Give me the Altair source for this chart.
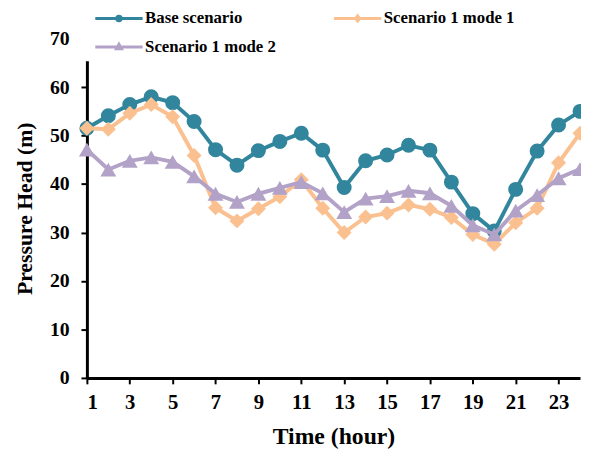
import altair as alt
import pandas as pd

hours = list(range(1, 25))
base = [51.5, 54.1, 56.4, 58.0, 56.8, 52.9, 47.1, 43.9, 46.9, 48.8, 50.5, 47.0,
        39.3, 44.8, 46.0, 48.0, 47.0, 40.4, 33.9, 30.3, 38.9, 46.8, 52.2, 55.0]
mode1 = [51.5, 51.3, 54.6, 56.4, 53.9, 45.9, 35.1, 32.4, 34.9, 37.4, 40.9, 35.0,
         30.0, 33.2, 34.0, 35.7, 34.8, 33.1, 29.6, 27.6, 32.0, 35.0, 44.4, 50.5]
mode2 = [47.1, 43.0, 44.8, 45.5, 44.6, 41.6, 38.0, 36.3, 38.0, 39.2, 40.4, 38.1,
         34.2, 37.0, 37.5, 38.6, 38.1, 35.5, 31.5, 29.6, 34.5, 37.7, 41.2, 43.1]

series_names = ["Base scenario", "Scenario 1 mode 1", "Scenario 1 mode 2"]
series_keys = ["base", "s1m1", "s1m2"]
colors = ["#31859C", "#FAC090", "#B3A2C7"]
point_shapes = ["circle", "diamond", "triangle-up"]
point_sizes = [230, 230, 260]
legend_shapes = [
    "M0,0H9.6M5.25,0A0.45,0.45,0,1,1,4.35,0A0.45,0.45,0,1,1,5.25,0Z",
    "M0,0H9.6M4.8,-0.5L5.2,0L4.8,0.5L4.4,0Z",
    "M0,0H9.6M4.8,-0.55L5.3,0.35L4.3,0.35Z",
]

rows = []
for name, key, vals in zip(series_names, series_keys, [base, mode1, mode2]):
    for h, v in zip(hours, vals):
        rows.append({"hour": h, "value": v, "series": name, "key": key})
df = pd.DataFrame(rows)

FONT = "Liberation Serif"

x = alt.X(
    "hour:Q",
    scale=alt.Scale(domain=[1, 24], nice=False, zero=False),
    axis=alt.Axis(
        values=list(range(1, 24, 2)), title="Time (hour)", grid=False,
        tickSize=6, tickWidth=2, tickColor="black", domainWidth=3, domainColor="black",
        labelFont=FONT, labelFontWeight="bold", labelFontSize=21, labelColor="black",
        labelPadding=8, titleFont=FONT, titleFontWeight="bold", titleFontSize=24,
        titleColor="black", titlePadding=12,
    ),
)
y = alt.Y(
    "value:Q",
    scale=alt.Scale(domain=[0, 70], nice=False),
    axis=alt.Axis(
        values=list(range(0, 71, 10)), title="Pressure Head (m)", grid=False,
        tickSize=6, tickWidth=2, tickColor="black", domainWidth=3, domainColor="black",
        labelFont=FONT, labelFontWeight="bold", labelFontSize=20, labelColor="black",
        labelPadding=12, titleFont=FONT, titleFontWeight="bold", titleFontSize=22,
        titleColor="black", titlePadding=13,
    ),
)
color_scale = alt.Scale(domain=series_keys, range=colors)

layers = []
for key, shp, sz in zip(series_keys, point_shapes, point_sizes):
    src = alt.Chart(df).transform_filter(alt.datum.key == key)
    line = src.mark_line(strokeWidth=4).encode(
        x=x, y=y, color=alt.Color("key:N", scale=color_scale, legend=None)
    )
    pts = src.mark_point(filled=True, size=sz, opacity=1, shape=shp).encode(
        x=x, y=y,
        color=alt.Color("key:N", scale=color_scale, legend=None),
    )
    layers += [line, pts]

leg = alt.Legend(
    orient="none", legendX=-6, legendY=-35, columns=2, direction="horizontal", title=None,
    labelFont=FONT, labelFontWeight="bold", labelFontSize=17, labelColor="black",
    labelOffset=42, labelLimit=400, symbolSize=100, symbolStrokeWidth=3,
    fillColor="white", padding=6, rowPadding=11, columnPadding=50,
)
legend_layer = alt.Chart(df).transform_filter(alt.datum.hour < 0).mark_point(
    filled=False, opacity=1, strokeWidth=3
).encode(
    x=x, y=y,
    stroke=alt.Stroke("series:N", scale=alt.Scale(domain=series_names, range=colors), legend=leg),
    shape=alt.Shape("series:N", scale=alt.Scale(domain=series_names, range=legend_shapes), legend=leg),
)

chart = alt.layer(*layers, legend_layer).properties(
    width=500, height=344,
    autosize=alt.AutoSizeParams(type="none"),
    padding={"left": 80, "top": 28, "right": 1, "bottom": 70},
    background="white",
).configure_view(stroke=None)

chart.save("out.html", embed_options={"renderer": "svg", "actions": False})
